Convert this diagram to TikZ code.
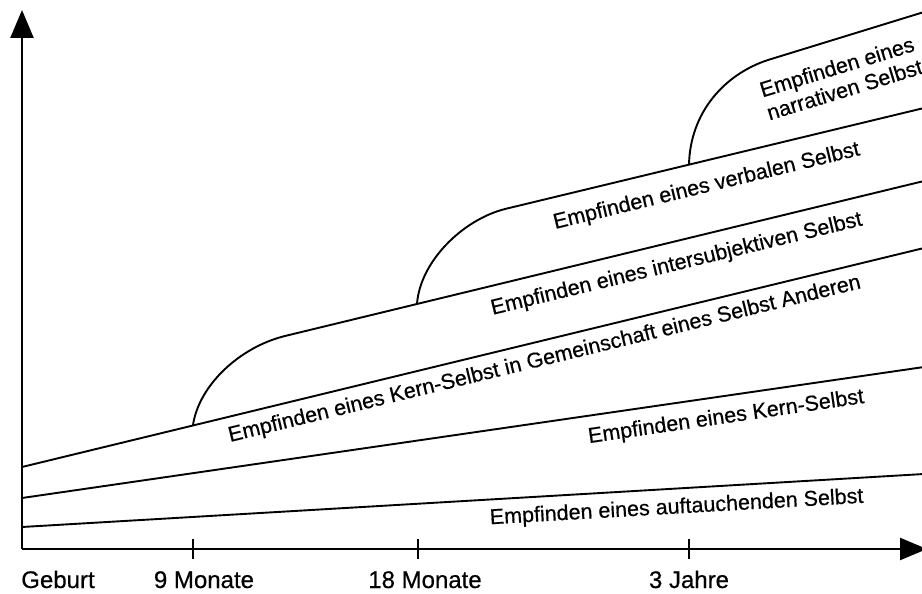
\documentclass[tikz,border=0pt]{standalone}
\usepackage{fontspec}
\setmainfont[FakeBold=0.5]{Liberation Sans}
\usetikzlibrary{arrows.meta}
\begin{document}
\begin{tikzpicture}[x=1pt,y=-1pt,
  axisline/.style={line width=2.4pt},
  bandline/.style={line width=1.9pt, line join=round},
  ticks/.style={line width=2pt},
  bandlbl/.style={font=\fontsize{21.5}{24}\selectfont, inner sep=0pt, anchor=base},
  axlbl/.style={font=\fontsize{24}{28}\selectfont, inner sep=0pt, anchor=base},
  ]
\useasboundingbox (0,0) rectangle (922,594);
% axes
\coordinate (O) at (22,549);
\coordinate (ytop) at (22,10);
\coordinate (xend) at (927,549);
\draw[axisline,-{Triangle[length=28pt,width=23pt]}] (O) -- (ytop);
\draw[axisline,-{Triangle[length=27pt,width=22pt]}] (O) -- (xend);
% ticks
\coordinate (t9a) at (193,539);  \coordinate (t9b) at (193,559);
\coordinate (t18a) at (418,539); \coordinate (t18b) at (418,559);
\coordinate (t36a) at (689,539); \coordinate (t36b) at (689,559);
\draw[ticks] (t9a) -- (t9b);
\draw[ticks] (t18a) -- (t18b);
\draw[ticks] (t36a) -- (t36b);
% axis labels
\node[axlbl] (geburt) at (58,588) {Geburt};
\node[axlbl] (m9) at (204,588) {9 Monate};
\node[axlbl] (m18) at (425,588) {18 Monate};
\node[axlbl] (j3) at (689,588) {3 Jahre};
% band boundary lines
\coordinate (l1a) at (22,527); \coordinate (l1b) at (924,474);
\coordinate (l2a) at (22,498); \coordinate (l2b) at (924,367);
\coordinate (l3a) at (22,467); \coordinate (l3b) at (924,248);
\draw[bandline] (l1a) -- (l1b);
\draw[bandline] (l2a) -- (l2b);
\draw[bandline] (l3a) -- (l3b);
% branching lines
\coordinate (s4) at (193,425); \coordinate (e4) at (285,336); \coordinate (l4b) at (924,181);
\coordinate (s5) at (417,304); \coordinate (e5) at (505,209); \coordinate (l5b) at (924,108);
\coordinate (s6) at (689,165); \coordinate (e6) at (768,60);  \coordinate (l6b) at (924,12);
\draw[bandline] (s4) .. controls (199,385) and (240,347) .. (e4) -- (l4b);
\draw[bandline] (s5) .. controls (420,262) and (462,220) .. (e5) -- (l5b);
\draw[bandline] (s6) .. controls (690,112) and (725,74) .. (e6) -- (l6b);
% band labels
\node[bandlbl, rotate=3.3] (b1) at (677,513.5) {Empfinden eines auftauchenden Selbst};
\node[bandlbl, rotate=8.3] (b2) at (727,423) {Empfinden eines Kern-Selbst};
\node[bandlbl, rotate=13.7] (b3) at (546,365) {Empfinden eines Kern-Selbst in Gemeinschaft eines Selbst Anderen};
\node[bandlbl, rotate=13.6] (b4) at (678,270) {Empfinden eines intersubjektiven Selbst};
\node[bandlbl, rotate=13.6] (b5) at (708,192) {Empfinden eines verbalen Selbst};
\node[font=\fontsize{21.5}{24}\selectfont, inner sep=0pt, align=left, rotate=17] (b6) at (841,78) {Empfinden eines\\narrativen Selbst};
\end{tikzpicture}
\end{document}
